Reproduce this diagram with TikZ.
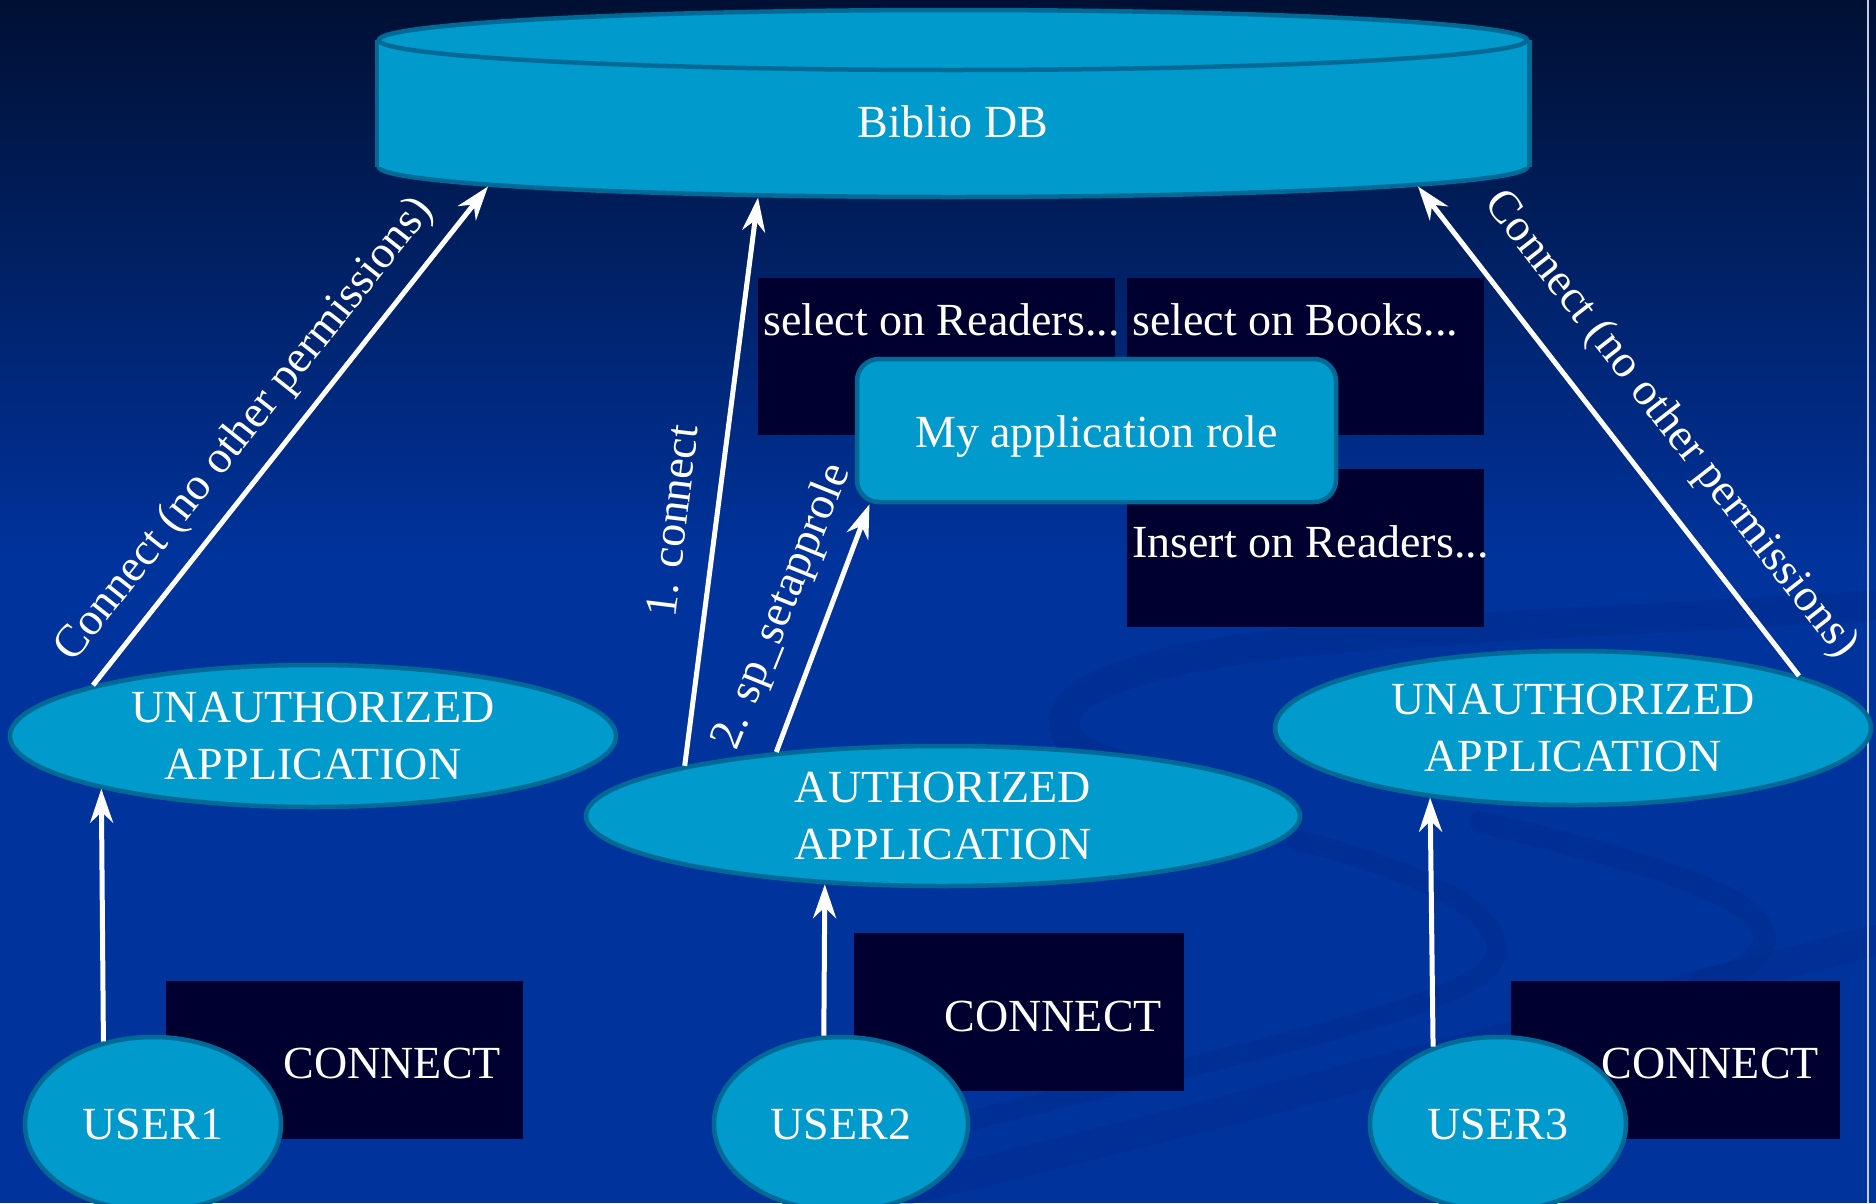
\documentclass[tikz,border=0pt]{standalone}
\usepackage{fontspec}
\setmainfont{Liberation Serif}
\usetikzlibrary{shapes.geometric,arrows.meta,calc}
\definecolor{bgtop}{RGB}{0,16,52}
\definecolor{bgbot}{RGB}{0,51,156}
\definecolor{cyanfill}{RGB}{0,154,204}
\definecolor{cyanedge}{RGB}{0,106,150}
\definecolor{boxfill}{RGB}{0,0,48}
\definecolor{swooshcol}{RGB}{0,40,132}
\definecolor{edgeline}{RGB}{200,205,225}
\begin{document}
\begin{tikzpicture}[x=1pt,y=-1pt,
  every node/.style={font=\fontsize{46}{57}\selectfont, text=white, inner sep=0pt},
  bubble/.style={ellipse, fill=cyanfill, draw=cyanedge, line width=4.5pt, align=center},
  dbend/.style={ellipse, fill=cyanfill, draw=cyanedge, line width=4.5pt, minimum width=1148pt, minimum height=60pt},
  darkbox/.style={rectangle, fill=boxfill},
  rolebox/.style={rectangle, rounded corners=22pt, fill=cyanfill, draw=cyanedge, line width=4.5pt, minimum width=479pt, minimum height=143pt, text height=33pt, text depth=0pt},
  arr/.style={draw=white, line width=5pt, -{Stealth[length=34pt,width=23pt,inset=11pt]}},
  swoosh/.style={draw=swooshcol, line width=24pt, line cap=round, opacity=0.35},
]
% background
\useasboundingbox (0,0) rectangle (1876,1203);
\shade[top color=bgtop, bottom color=bgbot] (0,0) rectangle (1876,560);
\fill[bgbot] (0,559) rectangle (1876,1203);
% decorative swooshes
\draw[swoosh, line width=30pt] (1876,605) .. controls (1500,630) and (1200,630) .. (1090,690) .. controls (1045,715) and (1060,750) .. (1120,765);
\draw[swoosh, line width=20pt] (1296,840) .. controls (1420,870) and (1510,915) .. (1495,958) .. controls (1480,1000) and (1300,1040) .. (1000,1113) .. controls (920,1133) and (860,1150) .. (800,1170);
\draw[swoosh, line width=22pt] (1480,822) .. controls (1640,860) and (1785,900) .. (1762,948) .. controls (1750,968) and (1730,975) .. (1700,980);
\draw[swoosh, line width=30pt, opacity=0.25] (850,1203) .. controls (1250,1110) and (1600,1010) .. (1876,940);
% right edge line
\draw[edgeline, line width=2pt] (1868,0) -- (1868,1203);

% dark permission boxes
\node[darkbox, minimum width=357pt, minimum height=157pt] (s1) at (936.5,356.5) {};
\node[darkbox, minimum width=357pt, minimum height=157pt] (s2) at (1305.5,356.5) {};
\node[darkbox, minimum width=357pt, minimum height=158pt] (i1) at (1305.5,548) {};
\node[anchor=base west] (s1t) at (763,335) {select on Readers...};
\node[anchor=base west] (s2t) at (1132,335) {select on Books...};
\node[anchor=base west] (i1t) at (1132,557) {Insert on Readers...};

\node[darkbox, minimum width=357pt, minimum height=158pt] (c1) at (344.5,1060) {};
\node[darkbox, minimum width=330pt, minimum height=158pt] (c2) at (1019,1012) {};
\node[darkbox, minimum width=329pt, minimum height=158pt] (c3) at (1675.5,1060) {};
\node[anchor=base east] (c1t) at (501,1078) {CONNECT};
\node[anchor=base east] (c2t) at (1162,1031) {CONNECT};
\node[anchor=base east] (c3t) at (1819,1078) {CONNECT};

% database cylinder
\node[dbend] (dbbot) at (953,167) {};
\fill[cyanfill] (dbbot.west) rectangle ($(dbbot.east)+(0,-127)$);
\node[dbend] (dbtop) at (953,40) {};
\draw[cyanedge, line width=4.5pt] (dbtop.west) -- (dbbot.west);
\draw[cyanedge, line width=4.5pt] (dbtop.east) -- (dbbot.east);
\node (dbtxt) at (953,122) {Biblio DB};
\coordinate (dbL) at ($(dbbot.center)+(-465,19.5)$);
\coordinate (dbM) at ($(dbbot.center)+(-195,30.5)$);
\coordinate (dbR) at ($(dbbot.center)+(465,19.5)$);

% role
\node[rolebox] (role) at (1096.5,430.5) {My application role};

% applications
\node[bubble, minimum width=606pt, minimum height=142pt] (ua1) at (313,736) {UNAUTHORIZED\\APPLICATION};
\node[bubble, minimum width=714pt, minimum height=140pt] (aa) at (943,816) {AUTHORIZED\\APPLICATION};
\node[bubble, minimum width=596pt, minimum height=154pt] (ua2) at (1573,728) {UNAUTHORIZED\\APPLICATION};

% users
\node[bubble, minimum width=256pt, minimum height=174pt] (user1) at (153,1124) {USER1};
\node[bubble, minimum width=254pt, minimum height=174pt] (user2) at (841,1124) {USER2};
\node[bubble, minimum width=256pt, minimum height=174pt] (user3) at (1498,1124) {USER3};

% connectors
\draw[arr] (user1.121) -- (ua1.194);
\draw[arr] (user2.101) -- (aa.210);
\draw[arr] (user3.130) -- (ua2.206);
\draw[arr] (ua1.167) -- (dbL);
\draw[arr] (ua2.13) -- (dbR);
\draw[arr] (aa.169) -- (dbM);
\draw[arr] (aa.159) -- (role.198);

% connector labels
\node[rotate=51.5] (lblL) at (245,430) {Connect (no other permissions)};
\node[rotate=-52] (lblR) at (1670,425) {Connect (no other permissions)};
\node[rotate=83] (lbl1) at (672,521) {1. connect};
\node[rotate=68] (lbl2) at (783,607) {2. sp\_setapprole};
\end{tikzpicture}
\end{document}
